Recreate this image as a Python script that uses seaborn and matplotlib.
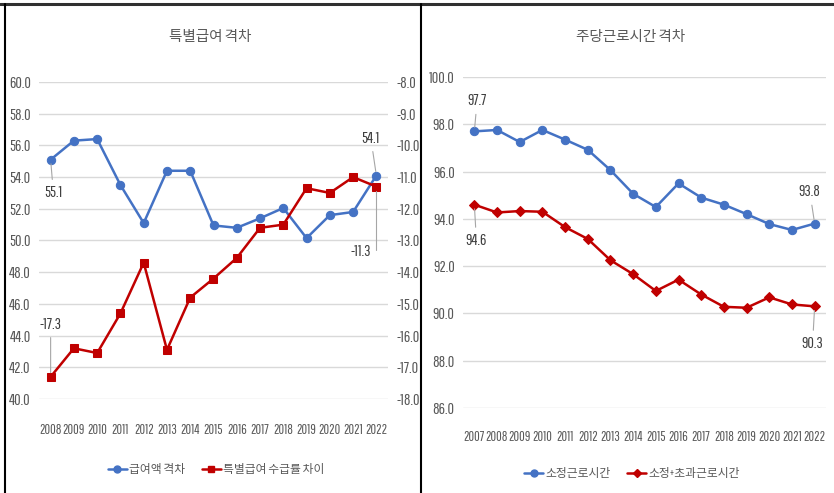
import matplotlib
matplotlib.use("Agg")
import matplotlib.pyplot as plt
from matplotlib.lines import Line2D
import seaborn as sns
import pandas as pd

# ---- data ----
years_left = ["2008", "2009", "2010", "2011", "2012", "2013", "2014", "2015",
              "2016", "2017", "2018", "2019", "2020", "2021", "2022"]
pay_gap = [55.1, 56.3, 56.4, 53.5, 51.1, 54.4, 54.4, 50.95, 50.8, 51.4,
           52.05, 50.15, 51.6, 51.8, 54.1]
bonus_rate_diff = [-17.3, -16.4, -16.55, -15.3, -13.7, -16.45, -14.8, -14.2,
                   -13.55, -12.6, -12.5, -11.35, -11.5, -11.0, -11.3]

years_right = ["2007", "2008", "2009", "2010", "2011", "2012", "2013", "2014",
               "2015", "2016", "2017", "2018", "2019", "2020", "2021", "2022"]
regular_hours = [97.7, 97.76, 97.25, 97.76, 97.35, 96.92, 96.06, 95.06, 94.5,
                 95.5, 94.9, 94.6, 94.2, 93.78, 93.53, 93.8]
total_hours = [94.6, 94.27, 94.33, 94.3, 93.65, 93.15, 92.25, 91.66, 90.95,
               91.43, 90.8, 90.28, 90.24, 90.68, 90.38, 90.3]

left_title = "특별급여 격차"
right_title = "주당근로시간 격차"
left_names = ["급여액 격차", "특별급여 수급률 차이"]
right_names = ["소정근로시간", "소정+초과근로시간"]

BLUE = "#4472C4"
RED = "#C00000"
GRID = "#D9D9D9"
TXT = "#595959"

sns.set_theme(style="white")
# narrow latin face for the numbers, Noto CJK for hangul
NUM = ["Pathway Gothic One", "Roboto Condensed", "Noto Sans CJK KR", "DejaVu Sans"]
plt.rcParams['font.family'] = NUM

df_left = pd.DataFrame({"year": years_left, "pay": pay_gap, "bonus": bonus_rate_diff})
df_right = pd.DataFrame({"year": years_right, "reg": regular_hours, "tot": total_hours})

fig = plt.figure(figsize=(8.34, 4.93), dpi=100)
W, H = 834, 493

def px_axes(x0, y0, x1, y1):
    return fig.add_axes([x0 / W, 1 - y1 / H, (x1 - x0) / W, (y1 - y0) / H])

def style_axis(a, n):
    for s in a.spines.values():
        s.set_visible(False)
    a.set_xlim(-0.5, n - 0.5)
    a.set_xlabel("")
    a.set_ylabel("")
    a.tick_params(length=0, colors=TXT, labelsize=11.5)
    a.tick_params(axis="x", labelsize=10)

# ---------------- left chart ----------------
ax = px_axes(39, 82, 388, 399)
ax2 = ax.twinx()
sns.lineplot(data=df_left, x="year", y="pay", ax=ax, color=BLUE, lw=1.8,
             marker="o", markersize=6, markeredgecolor=BLUE)
sns.lineplot(data=df_left, x="year", y="bonus", ax=ax2, color=RED, lw=1.8,
             marker="s", markersize=6, markeredgecolor=RED)
ax.set_ylim(40, 60)
ax.set_yticks([40 + 2 * k for k in range(11)])
ax.set_yticklabels([f"{40 + 2 * k:.1f}" for k in range(11)])
ax2.set_ylim(-18, -8)
ax2.set_yticks([-18 + k for k in range(11)])
ax2.set_yticklabels([f"{-18 + k:.1f}" for k in range(11)])
ax.yaxis.grid(True, color=GRID, lw=1)
ax.set_axisbelow(True)
style_axis(ax, len(years_left))
style_axis(ax2, len(years_left))
ax.tick_params(axis="x", pad=17)
ax.tick_params(axis="y", pad=6)
ax2.tick_params(axis="y", pad=6)

lbl = dict(fontsize=11.5, color="#404040", ha="center", va="center",
           textcoords="offset points")
arr = dict(arrowstyle="-", color="#A6A6A6", lw=0.8, shrinkA=2, shrinkB=3)
ax.annotate("55.1", xy=(0, pay_gap[0]), xytext=(2, -24), arrowprops=arr, **lbl)
ax.annotate("54.1", xy=(14, pay_gap[-1]), xytext=(-4, 27), arrowprops=arr, **lbl)
ax2.annotate("-17.3", xy=(0, bonus_rate_diff[0]), xytext=(0, 38), arrowprops=arr, **lbl)
ax2.annotate("-11.3", xy=(14, bonus_rate_diff[-1]), xytext=(-11, -47),
             arrowprops=dict(arr, connectionstyle="angle,angleA=0,angleB=90,rad=0",
                             relpos=(1.0, 0.5)), **lbl)

fig.text(210 / W, 1 - 37 / H, left_title, ha="center", va="center", fontsize=10.5, color=TXT)
h_left = [Line2D([], [], color=BLUE, lw=1.8, marker="o", markersize=5),
          Line2D([], [], color=RED, lw=1.8, marker="s", markersize=5)]
fig.legend(h_left, left_names, loc="center", bbox_to_anchor=(216 / W, 1 - 470 / H),
           ncol=2, frameon=False, fontsize=8.5, handlelength=1.6, handletextpad=0.2,
           columnspacing=1.4, labelcolor=TXT)

# ---------------- right chart ----------------
bx = px_axes(463, 77, 826, 408)
sns.lineplot(data=df_right, x="year", y="reg", ax=bx, color=BLUE, lw=1.8,
             marker="o", markersize=6, markeredgecolor=BLUE)
sns.lineplot(data=df_right, x="year", y="tot", ax=bx, color=RED, lw=1.8,
             marker="D", markersize=5, markeredgecolor=RED)
bx.set_ylim(86, 100)
bx.set_yticks([86 + 2 * k for k in range(8)])
bx.set_yticklabels([f"{86 + 2 * k:.1f}" for k in range(8)])
bx.yaxis.grid(True, color=GRID, lw=1)
bx.set_axisbelow(True)
style_axis(bx, len(years_right))
bx.tick_params(axis="x", pad=16)
bx.tick_params(axis="y", pad=6)

bx.annotate("97.7", xy=(0, regular_hours[0]), xytext=(2, 22), arrowprops=arr, **lbl)
bx.annotate("94.6", xy=(0, total_hours[0]), xytext=(1.5, -26), arrowprops=arr, **lbl)
bx.annotate("93.8", xy=(15, regular_hours[-1]), xytext=(-3.5, 23), arrowprops=arr, **lbl)
bx.annotate("90.3", xy=(15, total_hours[-1]), xytext=(-1.5, -27), arrowprops=arr, **lbl)

fig.text(631 / W, 1 - 37 / H, right_title, ha="center", va="center", fontsize=10.5, color=TXT)
h_right = [Line2D([], [], color=BLUE, lw=1.8, marker="o", markersize=5),
           Line2D([], [], color=RED, lw=1.8, marker="D", markersize=4.5)]
fig.legend(h_right, right_names, loc="center", bbox_to_anchor=(632 / W, 1 - 474 / H),
           ncol=2, frameon=False, fontsize=8.5, handlelength=1.6, handletextpad=0.2,
           columnspacing=1.4, labelcolor=TXT)

# panel borders
fig.add_artist(Line2D([0, 1], [1 - 4 / H, 1 - 4 / H], transform=fig.transFigure,
                      color="#303030", lw=2.2))
fig.add_artist(Line2D([5 / W, 5 / W], [0, 1 - 4 / H], transform=fig.transFigure,
                      color="black", lw=1.5))
fig.add_artist(Line2D([421 / W, 421 / W], [0, 1 - 4 / H], transform=fig.transFigure,
                      color="black", lw=1.5))

fig.savefig("out.png", dpi=100)
